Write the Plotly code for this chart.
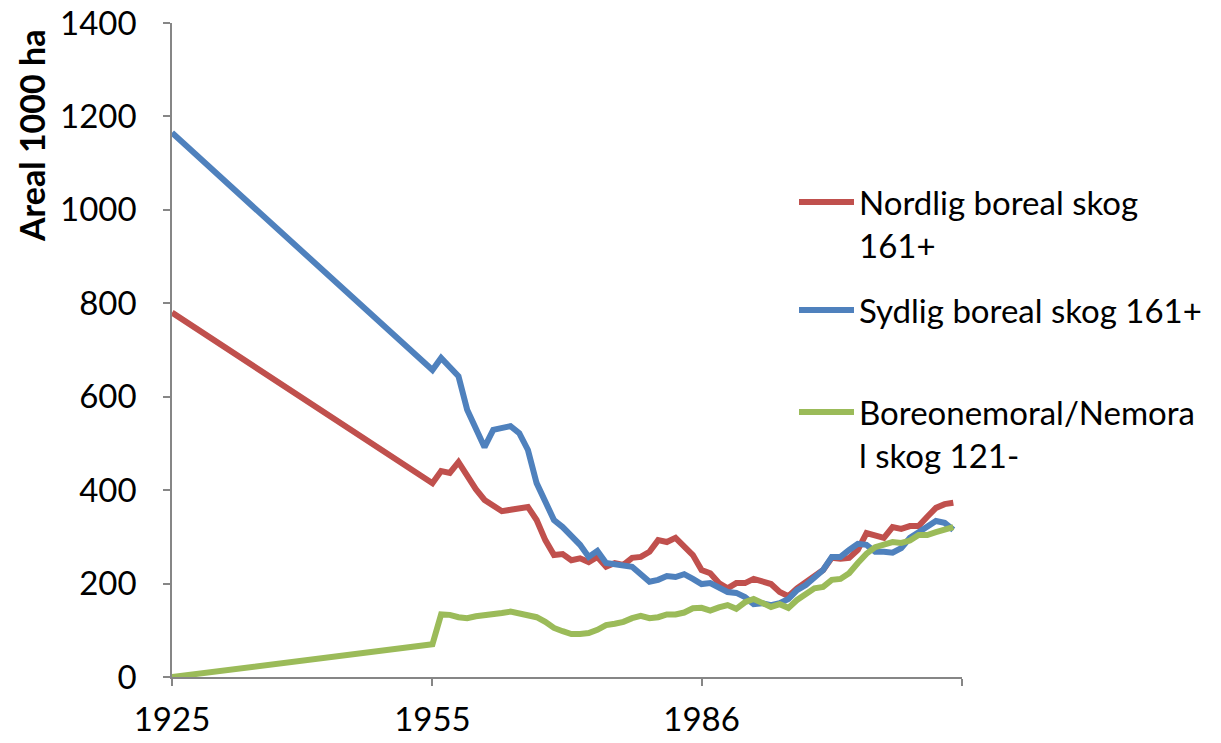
import plotly.graph_objects as go

##### Data #####

years = [1925,
         1955, 1956, 1957, 1958, 1959, 1960, 1961, 1962, 1963, 1964,
         1965, 1966, 1967, 1968, 1969, 1970, 1971, 1972, 1973, 1974,
         1975, 1976, 1977, 1978, 1979, 1980, 1981, 1982, 1983, 1984,
         1985, 1986, 1987, 1988, 1989, 1990, 1991, 1992, 1993, 1994,
         1995, 1996, 1997, 1998, 1999, 2000, 2001, 2002, 2003, 2004,
         2005, 2006, 2007, 2008, 2009, 2010, 2011, 2012, 2013, 2014,
         2015]

nordlig = [780,
           415, 441, 437, 460, 428, 402, 379, 366, 355, 358,
           362, 364, 336, 293, 261, 263, 250, 254, 246, 257,
           236, 244, 240, 255, 257, 268, 293, 289, 298, 278,
           261, 229, 222, 201, 190, 201, 201, 210, 204, 199,
           182, 173, 190, 204, 214, 229, 255, 253, 255, 272,
           308, 304, 298, 321, 317, 323, 323, 343, 362, 370,
           373]

sydlig = [1165,
          657, 683, 663, 644, 572, 533, 492, 529, 534, 537,
          522, 486, 415, 375, 336, 321, 303, 283, 257, 270,
          244, 242, 238, 236, 220, 204, 208, 216, 214, 220,
          210, 199, 201, 193, 182, 180, 171, 156, 158, 154,
          158, 167, 186, 197, 214, 229, 257, 257, 272, 285,
          283, 268, 268, 266, 276, 298, 310, 323, 334, 330,
          315]

boreonemoral = [0,
                70, 134, 133, 128, 126, 130, 132, 132, 137, 140,
                137, 133, 128, 118, 105, 98, 92, 92, 94, 101,
                111, 114, 118, 126, 131, 126, 128, 134, 134, 138,
                147, 148, 142, 149, 154, 146, 160, 167, 158, 150,
                156, 148, 165, 176, 190, 193, 208, 210, 222, 244,
                264, 278, 283, 289, 287, 292, 304, 304, 310, 315,
                321]

x_ticks = [1925, 1955, 1986, 2016]
x_ticktext = ["1925", "1955", "1986", ""]

series = [
    ("Nordlig boreal skog<br>161+", nordlig, "#C0504D", "legend"),
    ("Sydlig boreal skog 161+", sydlig, "#4F81BD", "legend2"),
    ("Boreonemoral/Nemora<br>l skog 121-", boreonemoral, "#9BBB59", "legend3"),
]

##### Figure #####

FONT = "Lato"
W, H = 1221, 743
OFF = 8  # page body margin shifts the figure by 8px
PL, PR, PT, PB = 172, 962, 23, 677  # plot area in page pixels

fig = go.Figure()

for name, vals, color, leg in series:
    fig.add_trace(go.Scatter(
        x=years, y=vals, name=name, mode="lines",
        line=dict(color=color, width=6),
        legend=leg, showlegend=True,
    ))

leg_common = dict(
    xref="container", yref="container", x=(794 - OFF) / W,
    xanchor="left", yanchor="top", valign="top",
    font=dict(family=FONT, size=33, color="black"),
    bgcolor="rgba(0,0,0,0)", itemwidth=55, visible=True,
)

fig.update_layout(
    width=W, height=H,
    paper_bgcolor="white", plot_bgcolor="white",
    margin=dict(l=PL - OFF, r=W - PR + OFF, t=PT - OFF, b=H - PB + OFF, autoexpand=False),
    font=dict(family=FONT, size=33, color="black"),
    showlegend=True,
    legend=dict(y=1 - (174 - OFF) / H, **leg_common),
    legend2=dict(y=1 - (282 - OFF) / H, **leg_common),
    legend3=dict(y=1 - (384 - OFF) / H, **leg_common),
    xaxis=dict(
        range=[1925, 2016], tickvals=x_ticks, ticktext=x_ticktext,
        showgrid=False, zeroline=False,
        showline=True, linecolor="#868686", linewidth=1.5,
        ticks="outside", ticklen=7, tickcolor="#868686", tickwidth=1.5,
        ticklabelstandoff=6, ticklabeloverflow="allow",
    ),
    yaxis=dict(
        range=[0, 1400], dtick=200,
        showgrid=False, zeroline=False,
        showline=True, linecolor="#868686", linewidth=1.5,
        ticks="outside", ticklen=7, tickcolor="#868686", tickwidth=1.5,
        ticklabelstandoff=20, ticklabeloverflow="allow",
    ),
    annotations=[dict(
        text="<b>Areal 1000 ha</b>", textangle=-90,
        xref="paper", yref="paper",
        x=(31 - PL) / (PR - PL), y=(PB - 28) / (PB - PT),
        xanchor="center", yanchor="top", showarrow=False,
        font=dict(family=FONT, size=34, color="black"),
    )],
)

fig.write_html("out.html")
